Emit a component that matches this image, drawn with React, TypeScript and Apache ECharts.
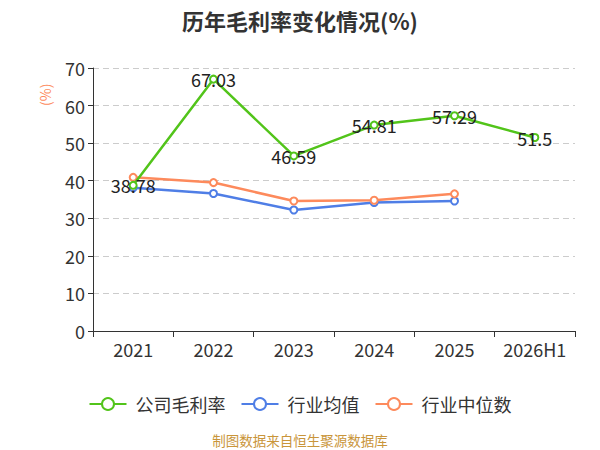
import React, { useEffect, useRef } from "react";
import * as echarts from "echarts";

const categories = ["2021", "2022", "2023", "2024", "2025", "2026H1"];
const companyMargin = [38.78, 67.03, 46.59, 54.81, 57.29, 51.5];
const industryMean = [38.1, 36.6, 32.2, 34.2, 34.6, null];
const industryMedian = [40.9, 39.5, 34.6, 34.8, 36.5, null];
const yTicks = { min: 0, max: 70, interval: 10 };

const GREEN = "#52c41a";
const BLUE = "#4f7ee6";
const ORANGE = "#fd8a5c";
const FONT = "'Noto Sans CJK SC', 'Noto Sans', sans-serif";

export default function App() {
  const ref = useRef<HTMLDivElement>(null);
  useEffect(() => {
    if (!ref.current) return;
    const chart = echarts.init(ref.current, undefined, { renderer: "svg" });
    const lineSeries = (name: string, data: any[], color: string, withLabel: boolean) => ({
      name,
      type: "line",
      data,
      symbol: "emptyCircle",
      symbolSize: 7,
      lineStyle: { color, width: 2.5 },
      itemStyle: { color, borderWidth: 1.5 },
      label: withLabel
        ? { show: true, position: "inside", fontSize: 18, color: "#222", fontFamily: FONT }
        : { show: false },
      z: withLabel ? 3 : 2,
    });
    chart.setOption({
      animation: false,
      textStyle: { fontFamily: FONT },
      title: {
        text: "历年毛利率变化情况(%)",
        left: "center",
        top: 4,
        textStyle: { fontSize: 22, fontWeight: "bold", color: "#333", fontFamily: FONT },
      },
      grid: { left: 93, right: 25, top: 68, bottom: 119, containLabel: false },
      xAxis: {
        type: "category",
        data: categories,
        boundaryGap: true,
        axisLine: { show: true, lineStyle: { color: "#333", width: 1 } },
        axisTick: { show: true, length: 6, interval: 0, lineStyle: { color: "#333" } },
        axisLabel: {
          fontSize: 18,
          color: "#333",
          margin: 9,
          interval: 0,
          hideOverlap: false,
          fontFamily: FONT,
        },
      },
      yAxis: {
        type: "value",
        min: yTicks.min,
        max: yTicks.max,
        interval: yTicks.interval,
        axisLine: { show: true, lineStyle: { color: "#333", width: 1 } },
        axisTick: { show: true, length: 5, lineStyle: { color: "#333" } },
        axisLabel: { fontSize: 18, color: "#333", margin: 8, fontFamily: FONT },
        splitLine: { show: true, lineStyle: { color: "#ccc", type: [6, 4], width: 1 } },
      },
      legend: {
        top: 390,
        left: "center",
        itemWidth: 37,
        itemHeight: 15,
        itemGap: 15,
        textStyle: { fontSize: 18, color: "#333", fontFamily: FONT, padding: [0, 0, 0, 4] },
        data: ["公司毛利率", "行业均值", "行业中位数"],
      },
      graphic: [
        {
          type: "text",
          x: 38,
          y: 106,
          rotation: Math.PI / 2,
          style: { text: "(%)", fontSize: 14, fill: ORANGE, fontFamily: FONT },
        },
        {
          type: "text",
          x: 300,
          y: 440,
          style: {
            text: "制图数据来自恒生聚源数据库",
            fontSize: 13.5,
            fill: "#c9953a",
            textAlign: "center",
            textVerticalAlign: "middle",
            fontFamily: FONT,
          },
        },
      ],
      series: [
        lineSeries("公司毛利率", companyMargin, GREEN, true),
        lineSeries("行业均值", industryMean, BLUE, false),
        lineSeries("行业中位数", industryMedian, ORANGE, false),
      ],
    });
    return () => chart.dispose();
  }, []);
  return (
    <div
      ref={ref}
      style={{ position: "fixed", left: 0, top: 0, width: 600, height: 450, background: "#fff" }}
    />
  );
}
